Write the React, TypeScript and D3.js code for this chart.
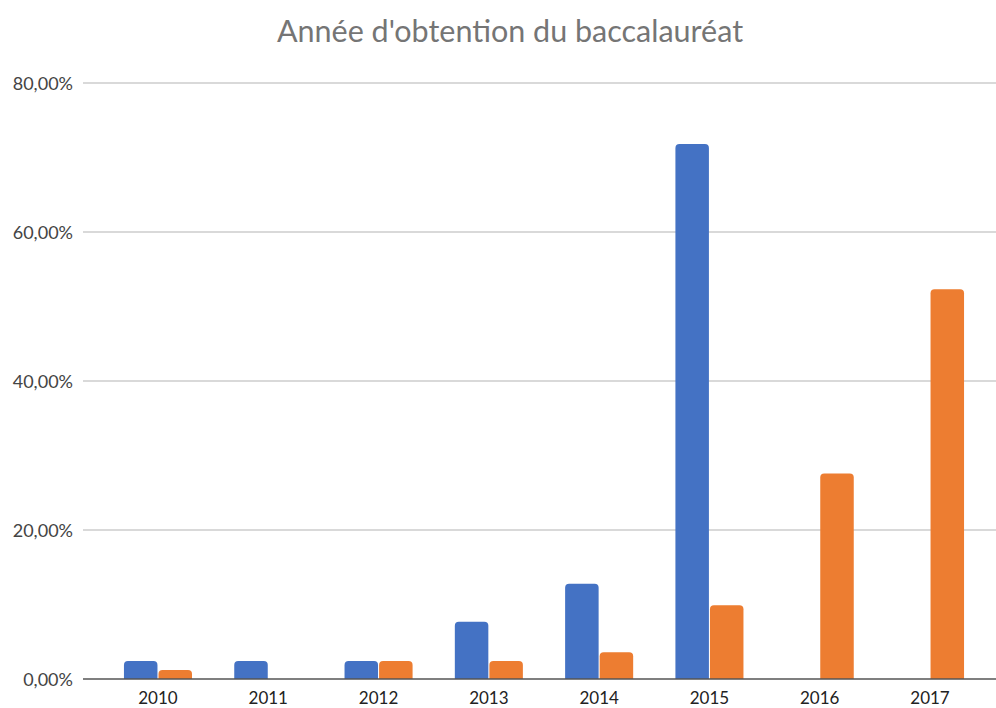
import * as d3 from "d3";
import { useEffect, useRef } from "react";

const years = ["2010", "2011", "2012", "2013", "2014", "2015", "2016", "2017"];
const seriesNames = ["Série 1", "Série 2"];
const serie1 = [2.4, 2.4, 2.4, 7.7, 12.8, 71.8, 0, 0];
const serie2 = [1.2, 0, 2.4, 2.4, 3.6, 9.9, 27.6, 52.3];
const colors = ["#4472c4", "#ed7d31"];
const yTicks = [0, 20, 40, 60, 80];

export default function App() {
  const svgRef = useRef<SVGSVGElement | null>(null);

  useEffect(() => {
    const width = 996;
    const height = 708;
    const margin = { top: 83, right: 11, bottom: 29, left: 103 };
    const gridLeft = 83;

    const svg = d3.select(svgRef.current);
    svg.selectAll("*").remove();
    svg.attr("width", width).attr("height", height);

    const x = d3
      .scaleBand()
      .domain(years)
      .range([margin.left, width - margin.right])
      .paddingInner(0.383)
      .paddingOuter(0.19);

    const xSub = d3
      .scaleBand()
      .domain(seriesNames)
      .range([0, x.bandwidth()])
      .paddingInner(0.03);

    const y = d3
      .scaleLinear()
      .domain([0, 80])
      .range([height - margin.bottom, margin.top]);

    svg
      .append("text")
      .attr("x", 510)
      .attr("y", 42)
      .attr("text-anchor", "middle")
      .attr("font-family", "Lato, sans-serif")
      .attr("font-size", 30.5)
      .attr("fill", "#757575")
      .text("Année d'obtention du baccalauréat");

    // grid + y labels
    const grid = svg.append("g");
    grid
      .selectAll("line")
      .data(yTicks.filter((t) => t > 0))
      .join("line")
      .attr("x1", gridLeft)
      .attr("x2", width)
      .attr("y1", (d) => y(d))
      .attr("y2", (d) => y(d))
      .attr("stroke", "#d9d9d9")
      .attr("stroke-width", 2);

    grid
      .selectAll("text")
      .data(yTicks)
      .join("text")
      .attr("x", 73)
      .attr("y", (d) => y(d) + 6.5)
      .attr("text-anchor", "end")
      .attr("font-family", "Lato, sans-serif")
      .attr("font-size", 18)
      .attr("fill", "#444")
      .text((d) => d3.format(".2f")(d).replace(".", ",") + "%");

    const data = years.map((yr, i) => ({ yr, vals: [serie1[i], serie2[i]] }));
    const r = 4;
    const barPath = (x0: number, w: number, v: number) => {
      const y0 = y(0);
      const y1 = y(v);
      const rr = Math.min(r, (y0 - y1) / 2, w / 2);
      return `M${x0},${y0}V${y1 + rr}Q${x0},${y1} ${x0 + rr},${y1}H${x0 + w - rr}Q${x0 + w},${y1} ${x0 + w},${y1 + rr}V${y0}Z`;
    };

    svg
      .append("g")
      .selectAll("g")
      .data(data)
      .join("g")
      .attr("transform", (d) => `translate(${x(d.yr)},0)`)
      .selectAll("path")
      .data((d) => d.vals.map((v, k) => ({ v, k })).filter((e) => e.v > 0))
      .join("path")
      .attr("d", (e) => barPath(xSub(seriesNames[e.k])!, xSub.bandwidth(), e.v))
      .attr("fill", (e) => colors[e.k]);

    // baseline
    svg
      .append("line")
      .attr("x1", gridLeft)
      .attr("x2", width)
      .attr("y1", y(0))
      .attr("y2", y(0))
      .attr("stroke", "#555")
      .attr("stroke-width", 1.5);

    svg
      .append("g")
      .selectAll("text")
      .data(years)
      .join("text")
      .attr("x", (d) => x(d)! + x.bandwidth() / 2)
      .attr("y", 704)
      .attr("text-anchor", "middle")
      .attr("font-family", "Lato, sans-serif")
      .attr("font-size", 17)
      .attr("fill", "#222")
      .text((d) => d);
  }, []);

  return (
    <svg
      ref={svgRef}
      style={{ position: "absolute", left: 0, top: 0, background: "#fff" }}
    ></svg>
  );
}
